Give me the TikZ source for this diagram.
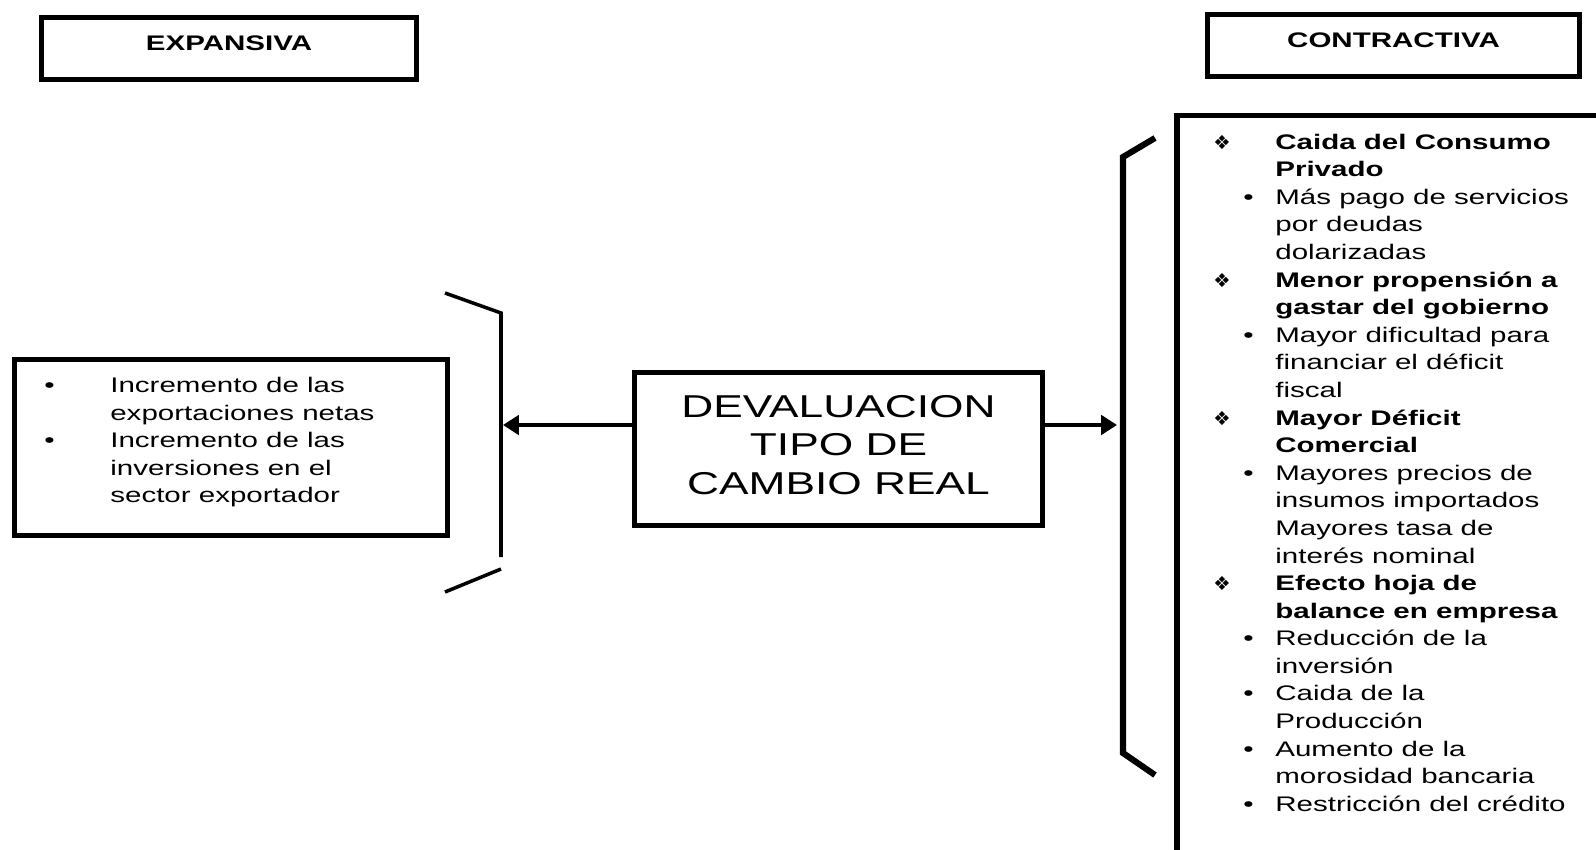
\documentclass[tikz,border=0pt]{standalone}
\usepackage{fontspec}
\setmainfont{Liberation Sans}[FakeStretch=1.4]
\newfontfamily\dvsym{DejaVu Sans}
\usetikzlibrary{arrows.meta,positioning}

% list bullets
\newcommand{\ditem}{\makebox[12.4mm][l]{{\dvsym\fontsize{11}{11}\selectfont ❖}}}
\newcommand{\bitem}{\hspace*{6mm}\makebox[6.4mm][l]{•}}
\newcommand{\cont}{\hspace*{12.4mm}}
\newcommand{\litem}{\makebox[13.2mm][l]{•}}
\newcommand{\lcont}{\hspace*{13.2mm}}

\tikzset{
  hdrbox/.style={draw, line width=2.6pt, minimum width=7.5cm, minimum height=1.25cm,
    font=\fontsize{12}{14}\selectfont\bfseries, text height=8.6pt, text depth=6.2pt},
  listtext/.style={align=left, inner sep=0pt, anchor=north west,
    font=\fontsize{12}{15.7}\selectfont},
  arr/.style={line width=2pt, -{Triangle[length=9pt,width=11pt]}},
}

\begin{document}
\begin{tikzpicture}[x=0.02cm, y=-0.02cm]
\useasboundingbox (0,0) rectangle (1596,849);

% header boxes
\node[hdrbox] (expa) at (229,48.5) {EXPANSIVA};
\node[hdrbox, minimum width=7.45cm] (contr) at (1393.5,45.5) {CONTRACTIVA};

% central box
\node[draw, line width=2.6pt, minimum width=8.17cm, minimum height=3.07cm,
  align=center, text depth=5pt, font=\fontsize{18}{22}\selectfont] (dev) at (838.5,449)
  {DEVALUACION\\TIPO DE\\CAMBIO REAL};

% expansive effects
\node[draw, line width=2.6pt, minimum width=8.67cm, minimum height=3.53cm] (left) at (231,447.5) {};
\node[listtext] (leftlist) at (44,377) {%
\litem Incremento de las\\
\lcont exportaciones netas\\
\litem Incremento de las\\
\lcont inversiones en el\\
\lcont sector exportador};

% left bracket
\draw[line width=2pt] (445,293) -- (501,313) -- (501,557);
\draw[line width=2pt] (501,569) -- (445,592);

% right bracket
\draw[line width=3.5pt] (1155,138) -- (1123,157) -- (1123,753) -- (1155,775);

% contractive box, cut by the page
\begin{scope}
\clip (0,0) rectangle (1596,849);
\draw[line width=3.2pt] (1640,115.5) -- (1177,115.5) -- (1177,900);
\end{scope}

\node[listtext] (rightlist) at (1213,133.6) {%
\ditem\textbf{Caida del Consumo}\\
\cont\textbf{Privado}\\
\bitem Más pago de servicios\\
\cont por deudas\\
\cont dolarizadas\\
\ditem\textbf{Menor propensión a}\\
\cont\textbf{gastar del gobierno}\\
\bitem Mayor dificultad para\\
\cont financiar el déficit\\
\cont fiscal\\
\ditem\textbf{Mayor Déficit}\\
\cont\textbf{Comercial}\\
\bitem Mayores precios de\\
\cont insumos importados\\
\cont Mayores tasa de\\
\cont interés nominal\\
\ditem\textbf{Efecto hoja de}\\
\cont\textbf{balance en empresa}\\
\bitem Reducción de la\\
\cont inversión\\
\bitem Caida de la\\
\cont Producción\\
\bitem Aumento de la\\
\cont morosidad bancaria\\
\bitem Restricción del crédito};

% arrows
\coordinate (la) at (503,425);
\coordinate (ra) at (1117,425);
\draw[arr] (dev.west |- la) -- (la);
\draw[arr] (dev.east |- ra) -- (ra);
\end{tikzpicture}
\end{document}
